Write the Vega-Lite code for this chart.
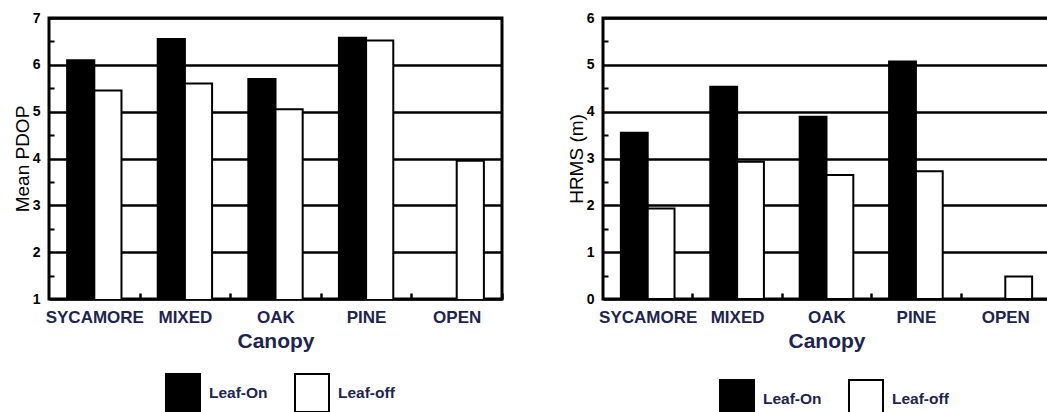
{
  "$schema": "https://vega.github.io/schema/vega-lite/v6.json",
  "background": "white",
  "padding": {"left": 11, "top": 9, "right": 0, "bottom": 0},
  "config": {
    "font": "Liberation Sans",
    "view": {"stroke": "black", "strokeWidth": 3},
    "axis": {
      "domain": false,
      "tickColor": "black",
      "tickWidth": 2,
      "gridColor": "black",
      "gridWidth": 2.5,
      "labelFont": "Liberation Sans",
      "labelFontWeight": "bold",
      "titleFont": "Liberation Sans"
    },
    "axisX": {
      "ticks": true,
      "labelFontSize": 17,
      "labelColor": "#1e2450",
      "labelAngle": 0,
      "labelPadding": 16,
      "tickSize": -6,
      "tickWidth": 2.5,
      "titleFontSize": 21,
      "titleFontWeight": "bold",
      "titleColor": "#1e2450",
      "titlePadding": 5
    },
    "axisY": {
      "labelFontSize": 14,
      "labelColor": "black",
      "labelPadding": 9,
      "format": "d",
      "titleFontSize": 19,
      "titleFontWeight": "normal",
      "titleColor": "black",
      "titlePadding": 0
    },
    "legend": {
      "labelFont": "Liberation Sans",
      "labelFontWeight": "bold",
      "labelFontSize": 15.5,
      "labelColor": "#1e2450"
    }
  },
  "datasets": {
    "pdop": [
      {"canopy": "SYCAMORE", "leaf": "Leaf-On", "value": 6.1},
      {"canopy": "SYCAMORE", "leaf": "Leaf-off", "value": 5.45},
      {"canopy": "MIXED", "leaf": "Leaf-On", "value": 6.55},
      {"canopy": "MIXED", "leaf": "Leaf-off", "value": 5.6},
      {"canopy": "OAK", "leaf": "Leaf-On", "value": 5.7},
      {"canopy": "OAK", "leaf": "Leaf-off", "value": 5.05},
      {"canopy": "PINE", "leaf": "Leaf-On", "value": 6.58},
      {"canopy": "PINE", "leaf": "Leaf-off", "value": 6.52},
      {"canopy": "OPEN", "leaf": "Leaf-off", "value": 3.95}
    ],
    "hrms": [
      {"canopy": "SYCAMORE", "leaf": "Leaf-On", "value": 3.55},
      {"canopy": "SYCAMORE", "leaf": "Leaf-off", "value": 1.93},
      {"canopy": "MIXED", "leaf": "Leaf-On", "value": 4.53},
      {"canopy": "MIXED", "leaf": "Leaf-off", "value": 2.93},
      {"canopy": "OAK", "leaf": "Leaf-On", "value": 3.89},
      {"canopy": "OAK", "leaf": "Leaf-off", "value": 2.65},
      {"canopy": "PINE", "leaf": "Leaf-On", "value": 5.07},
      {"canopy": "PINE", "leaf": "Leaf-off", "value": 2.73},
      {"canopy": "OPEN", "leaf": "Leaf-off", "value": 0.48}
    ]
  },
  "spacing": 60,
  "resolve": {
    "scale": {"fill": "independent", "y": "independent", "x": "independent", "xOffset": "independent"},
    "legend": {"fill": "independent"}
  },
  "hconcat": [
    {
      "width": 453,
      "height": 281,
      "data": {"name": "pdop"},
      "mark": {"type": "bar", "stroke": "black", "strokeWidth": 2, "clip": true},
      "encoding": {
        "x": {
          "field": "canopy", "type": "nominal",
          "sort": ["SYCAMORE", "MIXED", "OAK", "PINE", "OPEN"],
          "scale": {"paddingInner": 0.4, "paddingOuter": 0.2},
          "axis": {"title": "Canopy", "tickOffset": 45.3, "labelOffset": -45.3}
        },
        "xOffset": {
          "field": "leaf", "type": "nominal", "sort": ["Leaf-On", "Leaf-off"],
          "scale": {"domain": ["Leaf-On", "Leaf-off"], "paddingInner": 0, "paddingOuter": 0}
        },
        "y": {
          "field": "value", "type": "quantitative",
          "scale": {"domain": [1, 7], "zero": false, "nice": false},
          "axis": {
            "title": "Mean PDOP",
            "values": [1, 1.5, 2, 2.5, 3, 3.5, 4, 4.5, 5, 5.5, 6, 6.5, 7],
            "labelExpr": "datum.value % 1 ? '' : datum.label",
            "tickSize": {"condition": {"test": "datum.value % 1 != 0", "value": -5}, "value": 0},
            "gridOpacity": {"condition": {"test": "datum.value % 1 != 0", "value": 0}, "value": 1}
          }
        },
        "fill": {
          "field": "leaf", "type": "nominal",
          "scale": {"domain": ["Leaf-On", "Leaf-off"], "range": ["black", "white"]},
          "legend": {
            "title": null, "orient": "none", "legendX": 114, "legendY": 355, "direction": "horizontal", "columns": 2,
            "symbolType": "M-0.895,-1H0.895V1H-0.895Z", "symbolSize": 1444,
            "symbolStrokeColor": "black", "symbolStrokeWidth": 2, "symbolOpacity": 1,
            "labelOffset": 6, "columnPadding": 22
          }
        }
      }
    },
    {
      "width": 447,
      "height": 281,
      "data": {"name": "hrms"},
      "mark": {"type": "bar", "stroke": "black", "strokeWidth": 2, "clip": true},
      "encoding": {
        "x": {
          "field": "canopy", "type": "nominal",
          "sort": ["SYCAMORE", "MIXED", "OAK", "PINE", "OPEN"],
          "scale": {"paddingInner": 0.4, "paddingOuter": 0.2},
          "axis": {"title": "Canopy", "tickOffset": 44.7, "labelOffset": -44.7}
        },
        "xOffset": {
          "field": "leaf", "type": "nominal", "sort": ["Leaf-On", "Leaf-off"],
          "scale": {"domain": ["Leaf-On", "Leaf-off"], "paddingInner": 0, "paddingOuter": 0}
        },
        "y": {
          "field": "value", "type": "quantitative",
          "scale": {"domain": [0, 6], "nice": false},
          "axis": {
            "title": "HRMS (m)",
            "values": [0, 0.5, 1, 1.5, 2, 2.5, 3, 3.5, 4, 4.5, 5, 5.5, 6],
            "labelExpr": "datum.value % 1 ? '' : datum.label",
            "tickSize": {"condition": {"test": "datum.value % 1 != 0", "value": -5}, "value": 0},
            "gridOpacity": {"condition": {"test": "datum.value % 1 != 0", "value": 0}, "value": 1}
          }
        },
        "fill": {
          "field": "leaf", "type": "nominal",
          "scale": {"domain": ["Leaf-On", "Leaf-off"], "range": ["black", "white"]},
          "legend": {
            "title": null, "orient": "none", "legendX": 114, "legendY": 361, "direction": "horizontal", "columns": 2,
            "symbolType": "M-0.895,-1H0.895V1H-0.895Z", "symbolSize": 1444,
            "symbolStrokeColor": "black", "symbolStrokeWidth": 2, "symbolOpacity": 1,
            "labelOffset": 6, "columnPadding": 22
          }
        }
      }
    }
  ]
}
